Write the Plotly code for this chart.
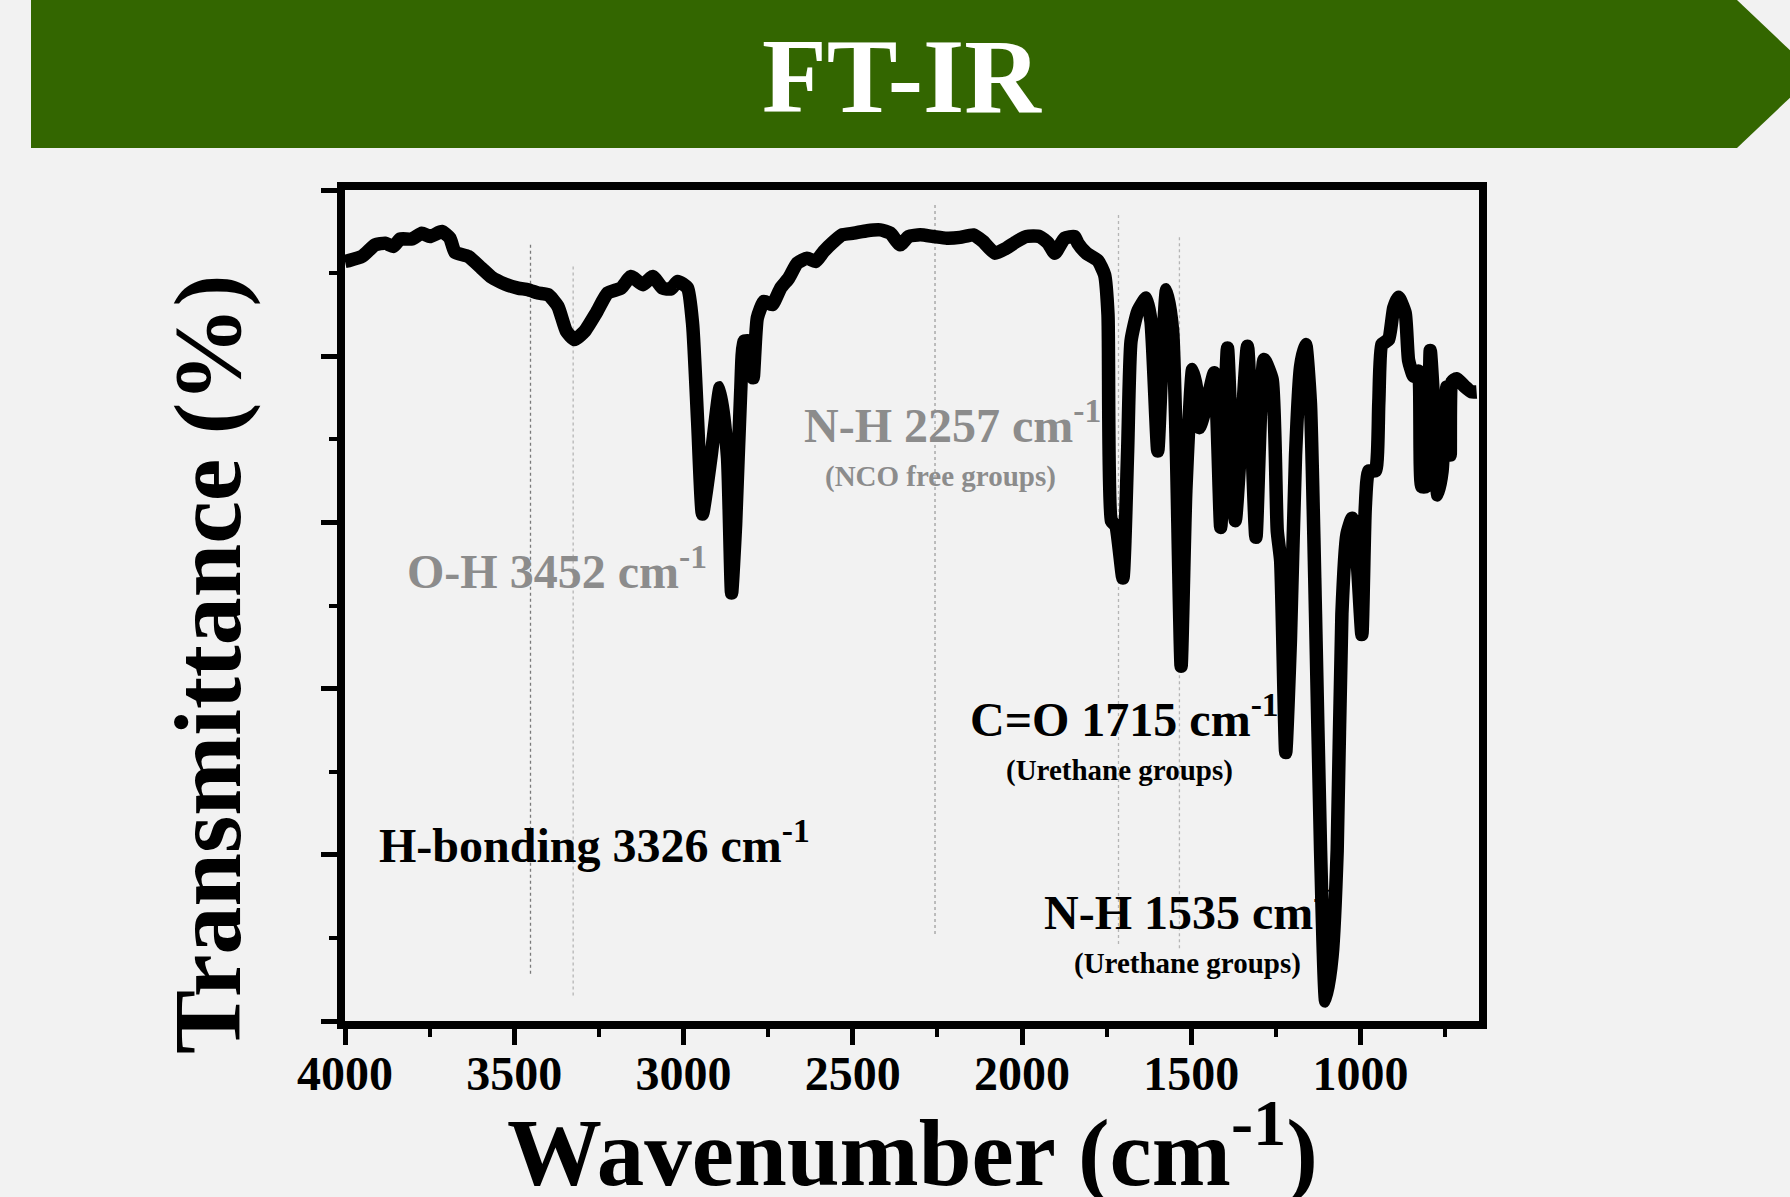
import plotly.graph_objects as go

# ---- FT-IR spectrum (wavenumber in cm-1, transmittance in %) ----
wavenumber = [
    4000, 3989, 3950, 3911, 3881, 3857, 3837, 3803, 3773, 3749, 3714, 3690, 3675, 3636,
    3597, 3567, 3528, 3489, 3459, 3430, 3400, 3371, 3346, 3322, 3292, 3258, 3224, 3184,
    3155, 3120, 3091, 3062, 3037, 3017, 2988, 2973, 2958, 2944, 2919, 2892, 2870, 2858,
    2846, 2831, 2821, 2802, 2794, 2782, 2762, 2738, 2713, 2689, 2664, 2635, 2610, 2586,
    2556, 2532, 2497, 2458, 2419, 2389, 2360, 2335, 2301, 2262, 2222, 2183, 2144, 2115,
    2080, 2046, 2016, 1987, 1948, 1923, 1903, 1874, 1845, 1835, 1810, 1776, 1756, 1746,
    1736, 1723, 1702, 1688, 1678, 1658, 1633, 1619, 1599, 1585, 1573, 1555, 1544, 1530,
    1516, 1496, 1481, 1476, 1457, 1432, 1413, 1393, 1370, 1334, 1309, 1285, 1261, 1246,
    1236, 1221, 1207, 1192, 1177, 1162, 1148, 1133, 1118, 1103, 1084, 1069, 1055, 1040,
    1025, 1010, 996, 986, 976, 956, 946, 937, 917, 902, 888, 868, 858, 843, 829, 819,
    807, 794, 781, 772, 759, 745, 735, 730, 716, 691, 672, 657,
]
transmittance = [
    91.4, 91.5, 92.0, 93.4, 93.6, 93.2, 94.1, 94.1, 94.8, 94.4, 95.0, 94.2, 92.5, 92.0,
    90.6, 89.5, 88.7, 88.2, 88.0, 87.6, 87.4, 86.0, 83.0, 82.0, 83.0, 85.2, 87.6, 88.2,
    89.6, 88.6, 89.6, 88.2, 88.1, 89.0, 88.2, 83.8, 71.9, 61.0, 67.8, 76.2, 67.8, 51.5,
    59.8, 75.8, 81.8, 81.8, 77.4, 84.6, 86.6, 86.2, 88.2, 89.4, 91.2, 91.8, 91.4, 92.6,
    93.8, 94.6, 94.8, 95.1, 95.2, 94.8, 93.4, 94.4, 94.6, 94.4, 94.2, 94.3, 94.6, 93.8,
    92.4, 93.0, 93.8, 94.4, 94.4, 93.6, 92.4, 94.2, 94.4, 93.6, 92.4, 91.5, 89.8, 85.0,
    60.2, 59.6, 53.3, 68.6, 81.8, 85.4, 87.0, 84.2, 68.6, 81.0, 88.0, 83.0, 68.6, 42.7,
    63.8, 78.4, 75.2, 71.4, 73.8, 78.0, 59.4, 81.0, 60.2, 81.2, 58.2, 79.6, 77.2, 59.0,
    55.4, 32.3, 45.9, 68.1, 78.8, 81.4, 74.4, 49.0, 20.5, 2.4, 7.8, 20.5, 49.0, 58.6,
    60.5, 55.4, 46.5, 61.7, 66.2, 66.2, 74.4, 81.4, 82.0, 85.8, 87.1, 85.2, 79.5, 77.6,
    78.2, 64.3, 64.3, 80.7, 72.2, 63.3, 66.2, 76.3, 68.1, 76.9, 77.3, 76.3, 75.7, 75.7,
]

# band markers: position (cm-1) and vertical extent (%)
band_positions = [3452, 3326, 2257, 1715, 1535]
band_top = [93.4, 90.8, 98.2, 97.0, 94.3]
band_bottom = [5.5, 3.0, 10.3, 9.0, 8.5]
band_colors = ["#7a7a7a", "#b5b5b5", "#a0a0a0", "#b5b5b5", "#b5b5b5"]

x_tick_values = [4000, 3500, 3000, 2500, 2000, 1500, 1000]
x_tick_labels = ["4000", "3500", "3000", "2500", "2000", "1500", "1000"]

W, H = 1790, 1197
L, R, T, B = 345, 1479, 190, 1021
SERIF = "Liberation Serif, Times New Roman, serif"
BG = "#f2f2f2"


def px(x):
    return (x - L) / (R - L)


def py(y):
    return (B - y) / (B - T)


fig = go.Figure()

for pos, top, bot, col in zip(band_positions, band_top, band_bottom, band_colors):
    fig.add_trace(go.Scatter(
        x=[pos, pos], y=[top, bot], mode="lines",
        line=dict(color=col, width=1.3, dash="dot"),
        hoverinfo="skip", showlegend=False,
    ))

fig.add_trace(go.Scatter(
    x=wavenumber, y=transmittance, mode="lines",
    line=dict(color="black", width=13.5, shape="spline", smoothing=0.5),
    showlegend=False,
))

# green header arrow
banner = (f"M {px(31)},{py(0)} L {px(1737)},{py(0)} L {px(1815)},{py(74)} "
          f"L {px(1737)},{py(148)} L {px(31)},{py(148)} Z")
fig.add_shape(type="path", path=banner, xref="paper", yref="paper",
              fillcolor="#336600", line=dict(width=0), layer="below")

annotations = [
    dict(text="FT-IR", x=px(902), y=py(76), size=106, color="white", xanchor="center"),
    dict(text="O-H 3452 cm<sup>-1</sup>", x=px(405), y=py(568), size=48, color="#8c8c8c", xanchor="left"),
    dict(text="N-H 2257 cm<sup>-1</sup>", x=px(802), y=py(422), size=48, color="#8c8c8c", xanchor="left"),
    dict(text="(NCO free groups)", x=px(940), y=py(476), size=29, color="#8c8c8c", xanchor="center"),
    dict(text="H-bonding 3326 cm<sup>-1</sup>", x=px(377), y=py(842), size=48, color="black", xanchor="left"),
    dict(text="C=O 1715 cm<sup>-1</sup>", x=px(968), y=py(716), size=48, color="black", xanchor="left"),
    dict(text="(Urethane groups)", x=px(1119), y=py(770), size=29, color="black", xanchor="center"),
    dict(text="N-H 1535 cm<sup>-1</sup>", x=px(1042), y=py(909), size=48, color="black", xanchor="left"),
    dict(text="(Urethane groups)", x=px(1187), y=py(963), size=29, color="black", xanchor="center"),
    dict(text="Wavenumber (cm<sup>-1</sup>)", x=px(912), y=py(1146), size=95, color="black", xanchor="center"),
]
for a in annotations:
    fig.add_annotation(
        text=a["text"], x=a["x"], y=a["y"], xref="paper", yref="paper",
        xanchor=a["xanchor"], yanchor="middle", showarrow=False,
        font=dict(family=SERIF, size=a["size"], color=a["color"], weight="bold"),
    )

fig.add_annotation(
    text="Transmittance (%)", x=px(207), y=py(665), xref="paper", yref="paper",
    xanchor="center", yanchor="middle", textangle=-90, showarrow=False,
    font=dict(family=SERIF, size=96, color="black", weight="bold"),
)

fig.update_layout(
    width=W, height=H,
    margin=dict(l=L, r=W - R, t=T, b=H - B, pad=0),
    paper_bgcolor=BG, plot_bgcolor=BG,
    font=dict(family=SERIF, color="black"),
    xaxis=dict(
        range=[4000, 650], tickmode="array", tickvals=x_tick_values, ticktext=x_tick_labels,
        showgrid=False, zeroline=False, showline=True, linewidth=8, linecolor="black",
        mirror=True, ticks="outside", ticklen=16, tickwidth=5, tickcolor="black",
        ticklabelstandoff=-13,
        tickfont=dict(family=SERIF, size=48, color="black", weight="bold"),
        minor=dict(dtick=250, tick0=0, ticks="outside", ticklen=8, tickwidth=4,
                   tickcolor="black", showgrid=False),
    ),
    yaxis=dict(
        range=[0, 100], dtick=20, showticklabels=False,
        showgrid=False, zeroline=False, showline=True, linewidth=8, linecolor="black",
        mirror=True, ticks="outside", ticklen=16, tickwidth=5, tickcolor="black",
        minor=dict(dtick=10, ticks="outside", ticklen=8, tickwidth=4,
                   tickcolor="black", showgrid=False),
    ),
)

fig.write_html("out.html")
